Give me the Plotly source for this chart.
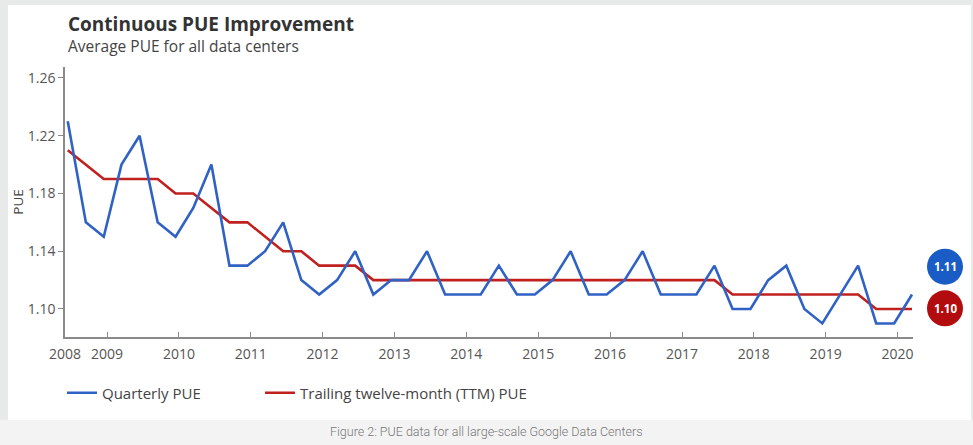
import plotly.graph_objects as go

# ---------------- data ----------------
quarter_dates = [
    "2008-06-15", "2008-09-15", "2008-12-15",
    "2009-03-15", "2009-06-15", "2009-09-15", "2009-12-15",
    "2010-03-15", "2010-06-15", "2010-09-15", "2010-12-15",
    "2011-03-15", "2011-06-15", "2011-09-15", "2011-12-15",
    "2012-03-15", "2012-06-15", "2012-09-15", "2012-12-15",
    "2013-03-15", "2013-06-15", "2013-09-15", "2013-12-15",
    "2014-03-15", "2014-06-15", "2014-09-15", "2014-12-15",
    "2015-03-15", "2015-06-15", "2015-09-15", "2015-12-15",
    "2016-03-15", "2016-06-15", "2016-09-15", "2016-12-15",
    "2017-03-15", "2017-06-15", "2017-09-15", "2017-12-15",
    "2018-03-15", "2018-06-15", "2018-09-15", "2018-12-15",
    "2019-03-15", "2019-06-15", "2019-09-15", "2019-12-15",
    "2020-03-15",
]

quarterly_pue = [
    1.23, 1.16, 1.15,
    1.20, 1.22, 1.16, 1.15,
    1.17, 1.20, 1.13, 1.13,
    1.14, 1.16, 1.12, 1.11,
    1.12, 1.14, 1.11, 1.12,
    1.12, 1.14, 1.11, 1.11,
    1.11, 1.13, 1.11, 1.11,
    1.12, 1.14, 1.11, 1.11,
    1.12, 1.14, 1.11, 1.11,
    1.11, 1.13, 1.10, 1.10,
    1.12, 1.13, 1.10, 1.09,
    1.11, 1.13, 1.09, 1.09,
    1.11,
]

ttm_pue = [
    1.21, 1.20, 1.19,
    1.19, 1.19, 1.19, 1.18,
    1.18, 1.17, 1.16, 1.16,
    1.15, 1.14, 1.14, 1.13,
    1.13, 1.13, 1.12, 1.12,
    1.12, 1.12, 1.12, 1.12,
    1.12, 1.12, 1.12, 1.12,
    1.12, 1.12, 1.12, 1.12,
    1.12, 1.12, 1.12, 1.12,
    1.12, 1.12, 1.11, 1.11,
    1.11, 1.11, 1.11, 1.11,
    1.11, 1.11, 1.10, 1.10,
    1.10,
]

x_tick_vals = ["2008-06-01", "2009-01-01", "2010-01-01", "2011-01-01", "2012-01-01",
               "2013-01-01", "2014-01-01", "2015-01-01", "2016-01-01", "2017-01-01",
               "2018-01-01", "2019-01-01", "2020-01-01"]
x_tick_text = ["2008", "2009", "2010", "2011", "2012", "2013", "2014", "2015",
               "2016", "2017", "2018", "2019", "2020"]
y_tick_vals = [1.10, 1.14, 1.18, 1.22, 1.26]

badge_labels = ["1.11", "1.10"]

series_names = ["Quarterly PUE", "Trailing twelve-month (TTM) PUE"]

title_text = "Continuous PUE Improvement"
subtitle_text = "Average PUE for all data centers"
caption_text = "Figure 2: PUE data for all large-scale Google Data Centers"

# ---------------- layout geometry ----------------
W, H = 973, 445
ML, MR, MT, MB = 65, 60, 67, 108
PW = W - ML - MR
PH = H - MT - MB


def px(xpix):
    return (xpix - ML) / PW


def py(ypix):
    return (H - MB - ypix) / PH


FONT = "Open Sans"
BLUE_LINE = "#2f62c4"
RED_LINE = "#c0211f"
BLUE_BADGE = "#1a5cc6"
RED_BADGE = "#b30c0e"
EDGE_GRAY = "#e8eaea"

fig = go.Figure()

fig.add_trace(go.Scatter(
    x=quarter_dates, y=ttm_pue, mode="lines", name=series_names[1],
    line=dict(color=RED_LINE, width=2.6), legend="legend2",
))
fig.add_trace(go.Scatter(
    x=quarter_dates, y=quarterly_pue, mode="lines", name=series_names[0],
    line=dict(color=BLUE_LINE, width=2.6), legend="legend",
))

shapes = [
    dict(type="rect", xref="paper", yref="paper", x0=px(8), x1=px(971), y0=py(420), y1=py(5),
         fillcolor="white", line=dict(width=0), layer="below"),
    dict(type="rect", xref="paper", yref="paper", x0=px(0), x1=px(8), y0=py(420), y1=py(0),
         fillcolor=EDGE_GRAY, line=dict(width=0), layer="below"),
    dict(type="rect", xref="paper", yref="paper", x0=px(0), x1=px(973), y0=py(5), y1=py(0),
         fillcolor=EDGE_GRAY, line=dict(width=0), layer="below"),
    dict(type="rect", xref="paper", yref="paper", x0=px(971), x1=px(973), y0=py(420), y1=py(0),
         fillcolor=EDGE_GRAY, line=dict(width=0), layer="below"),
]

badge_y = [266.7, 308.3]
badge_colors = [BLUE_BADGE, RED_BADGE]
annotations = []
for lab, yy, col in zip(badge_labels, badge_y, badge_colors):
    shapes.append(dict(type="circle", xref="paper", yref="paper",
                       xsizemode="pixel", ysizemode="pixel",
                       xanchor=px(945), yanchor=py(yy),
                       x0=-18, x1=18, y0=-18, y1=18,
                       fillcolor=col, line=dict(width=0)))
    annotations.append(dict(xref="paper", yref="paper", x=px(945), y=py(yy),
                            text="<b>" + lab + "</b>", showarrow=False,
                            font=dict(family=FONT, size=11.5, color="white"),
                            xanchor="center", yanchor="middle"))

annotations += [
    dict(xref="paper", yref="paper", x=px(66), y=py(24), text="<b>" + title_text + "</b>",
         showarrow=False, xanchor="left", yanchor="middle",
         font=dict(family=FONT, size=19, color="#333333")),
    dict(xref="paper", yref="paper", x=px(66), y=py(46), text=subtitle_text,
         showarrow=False, xanchor="left", yanchor="middle",
         font=dict(family=FONT, size=15.5, color="#444444")),
    dict(xref="paper", yref="paper", x=px(486), y=py(431), text=caption_text,
         showarrow=False, xanchor="center", yanchor="middle",
         font=dict(family="Roboto", size=12.5, color="#777777", weight=300)),
]

legend_common = dict(orientation="h", xanchor="left", yanchor="middle",
                     font=dict(family=FONT, size=15, color="#444444"),
                     bgcolor="rgba(0,0,0,0)")

fig.update_layout(
    width=W, height=H,
    margin=dict(l=ML, r=MR, t=MT, b=MB, pad=0),
    paper_bgcolor="#f3f3f3",
    plot_bgcolor="white",
    font=dict(family=FONT, color="#555555"),
    showlegend=True,
    legend=dict(x=px(62), y=py(393), **legend_common),
    legend2=dict(x=px(260), y=py(393), **legend_common),
    shapes=shapes,
    annotations=annotations,
    xaxis=dict(
        type="date", range=["2008-06-01", "2020-03-20"],
        tickmode="array", tickvals=x_tick_vals, ticktext=x_tick_text,
        showgrid=False, zeroline=False,
        showline=True, linecolor="#8a8a8a", linewidth=1.5,
        ticks="inside", ticklen=5, tickcolor="#8a8a8a", tickwidth=1,
        tickfont=dict(family=FONT, size=14, color="#555555"),
        ticklabelstandoff=3,
    ),
    yaxis=dict(
        range=[1.0806, 1.2676],
        tickmode="array", tickvals=y_tick_vals, tickformat=".2f",
        showgrid=False, zeroline=False,
        showline=True, linecolor="#8a8a8a", linewidth=1.5,
        ticks="outside", ticklen=5, tickcolor="#8a8a8a", tickwidth=1,
        tickfont=dict(family=FONT, size=14, color="#555555"),
        title=dict(text="PUE", font=dict(family=FONT, size=13.5, color="#444444"), standoff=1),
    ),
)

fig.write_html(
    "out.html",
    config={"displayModeBar": False},
    post_script="document.body.style.margin='0';document.body.style.overflow='hidden';",
)
